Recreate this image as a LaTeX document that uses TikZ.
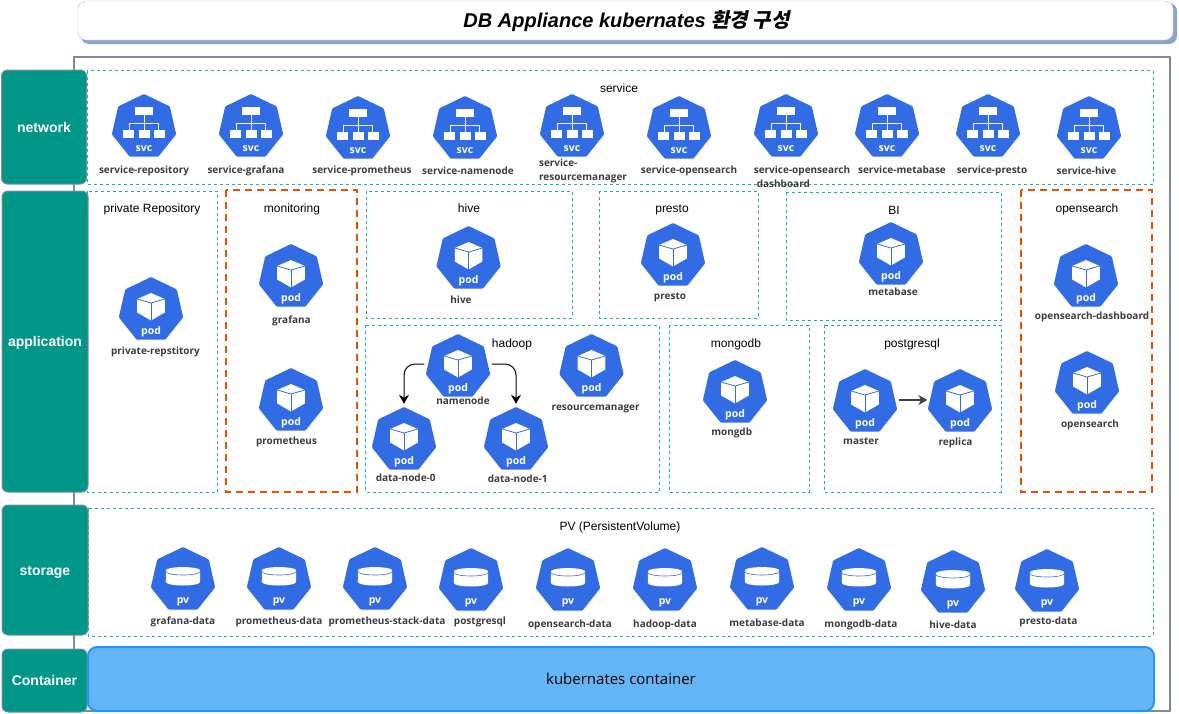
\documentclass[tikz,border=0pt]{standalone}
\usepackage{fontspec}
\setmainfont{Liberation Sans}
\newfontfamily\labelfont{Open Sans}
\newfontfamily\cjkfont[FakeSlant=0.2,BoldFont={Noto Sans CJK KR Bold}]{Noto Sans CJK KR}
\usetikzlibrary{shapes.geometric, arrows.meta, positioning}
\definecolor{kubeblue}{HTML}{326CE5}
\definecolor{layerteal}{HTML}{009688}
\definecolor{layeredge}{HTML}{7C8BA8}
\definecolor{groupteal}{HTML}{12B5AE}
\definecolor{grouporange}{HTML}{E65100}
\definecolor{framegray}{HTML}{7F8A9C}
\definecolor{shadowblue}{HTML}{8CA3CF}
\definecolor{containerfill}{HTML}{64B5F6}
\definecolor{containeredge}{HTML}{2196F3}
\definecolor{labelgray}{HTML}{3C3C3C}

\begin{document}
\begin{tikzpicture}[x=1pt, y=-1pt]
        \tikzstyle{every node}=[align=center, inner sep=0pt]
        \tikzstyle{hepta}=[regular polygon, regular polygon sides=7, minimum size=66pt, fill=kubeblue, rounded corners=1pt]
        \tikzstyle{kind}=[text=white, font=\labelfont\bfseries\fontsize{10.5}{11}\selectfont]
        \tikzstyle{iconlabel}=[align=left, yshift=-1pt, text=labelgray, font=\labelfont\bfseries\fontsize{10}{14}\selectfont]
        \tikzstyle{grouptitle}=[text height=8pt, text depth=0pt, font=\fontsize{12}{14}\selectfont]
        \tikzstyle{groupbox}=[draw=groupteal, line width=1pt, dash pattern=on 3pt off 3pt]
        \tikzstyle{orangebox}=[draw=grouporange, line width=2pt, dash pattern=on 7pt off 5pt]
        \tikzstyle{layerbox}=[draw=layeredge, line width=1pt, fill=layerteal, rounded corners=6pt, text=white, text height=10pt, text depth=0pt, font=\bfseries\fontsize{14}{16}\selectfont]
        \tikzstyle{link}=[draw=black, line width=1pt, rounded corners=11pt, -{Stealth[length=9pt, width=10pt]}]

        \useasboundingbox (0,0) rectangle (1179,713);

        \fill[shadowblue, rounded corners=8pt] (81,3) rectangle (1177,44);
        \draw[draw=lightgray, fill=white, rounded corners=8pt] (78,1) rectangle (1173,40);
        \node at (626.5,21) (title) {\fontsize{20}{23}\selectfont\bfseries\itshape DB Appliance kubernates {\cjkfont 환경 구성}};

        \draw[framegray, line width=2pt] (74,711) -- (74,56.5) -- (1170,56.5) -- (1170,711) -- cycle;

        \draw[groupbox] (87,70.5) rectangle (1153,184);
        \draw[groupbox] (87,191) rectangle (217.5,492);
        \draw[orangebox] (226,190) rectangle (357,492);
        \draw[groupbox] (366,191) rectangle (572,318);
        \draw[groupbox] (599,191) rectangle (758,318);
        \draw[groupbox] (786,192) rectangle (1001.5,320);
        \draw[orangebox] (1021,190) rectangle (1152,492);
        \draw[groupbox] (365.5,325) rectangle (659,492);
        \draw[groupbox] (669,325) rectangle (809,492);
        \draw[groupbox] (824,325) rectangle (1001,492);
        \draw[groupbox] (88,508) rectangle (1153,636);

        \node[grouptitle] at (619,88) (serviceTitle) {service};
        \node[grouptitle] at (152,208) (repoTitle) {private Repository};
        \node[grouptitle] at (292,208) (monitoringTitle) {monitoring};
        \node[grouptitle] at (469,208) (hiveTitle) {hive};
        \node[grouptitle] at (672,208) (prestoTitle) {presto};
        \node[grouptitle] at (894,210) (biTitle) {BI};
        \node[grouptitle] at (1087,208) (opensearchTitle) {opensearch};
        \node[grouptitle] at (512,343) (hadoopTitle) {hadoop};
        \node[grouptitle] at (736,343) (mongodbTitle) {mongodb};
        \node[grouptitle] at (912,343) (postgresqlTitle) {postgresql};
        \node[grouptitle] at (620,526) (pvTitle) {PV (PersistentVolume)};

        \node[layerbox, minimum width=85pt, minimum height=114pt] at (44,127) (network) {network};
        \node[layerbox, minimum width=86pt, minimum height=301pt] at (45,341.5) (application) {application};
        \node[layerbox, minimum width=86pt, minimum height=130pt] at (45,570) (storage) {storage};
        \node[layerbox, minimum width=85pt, minimum height=63pt] at (44.5,680.5) (container) {Container};

        \node[draw=containeredge, line width=2pt, fill=containerfill, rounded corners=9pt, minimum width=1066pt, minimum height=64pt, text height=10pt, text depth=0pt, font=\labelfont\fontsize{15}{17}\selectfont] at (621,679) (kube) {kubernates container};

        \foreach \nm/\x/\y/\lx/\ly/\txt in {svcRepo/144/127/144/170/service-repository, svcGrafana/251/127/246/170/service-grafana, svcProm/358/129/362/170/service-prometheus, svcName/465/129/468/170/service-namenode, svcRes/572/127/583/170/service-\\resourcemanager, svcOpen/679/129/689/170/service-opensearch, svcDash/786/127/802/176/service-opensearch\\\hspace*{3pt}dashboard, svcMeta/887/127/902/169/service-metabase, svcPresto/988/127/992/170/service-presto, svcHive/1089/129/1086.5/170/service-hive}
        {
            \node[hepta] at (\x,\y) (\nm) {};
            \begin{scope}[shift={(\x,\y)}]
                \fill[white] (-8.7,-19.8) rectangle (8.7,-11.8);
                \fill[white] (-20.7,3.2) rectangle (-9.7,10.9);
                \fill[white] (-5.5,3.2) rectangle (5.5,10.9);
                \fill[white] (9.7,3.2) rectangle (20.7,10.9);
                \draw[white, line width=1pt] (0,-12) -- (0,3.2);
                \draw[white, line width=1pt] (-14.7,3.2) -- (-14.7,-3.5) -- (14.7,-3.5) -- (14.7,3.2);
            \end{scope}
            \node[kind] at (\x,\y+21.5) (\nm-kind) {svc};
            \node[iconlabel] at (\lx,\ly) (\nm-label) {\txt};
        }

        \foreach \nm/\x/\y/\lx/\ly/\txt in {private/151/310/155.5/351/private-repstitory, grafana/291/277/291.5/320/grafana, prometheus/291/401/286.5/441/prometheus, hive/468.6/259/461/299/hive, presto/673/256/670/296/presto, metabase/891/255/893/291/metabase, namenode/458/367/463/400/namenode, resourcemanager/591.5/367/595.7/407.5/resourcemanager, datanode0/404/440/405.7/477/data-node-0, datanode1/516/440/517.7/478/data-node-1, mongodb/735/393/731.7/431.5/mongdb, master/865/402/861/440.5/master, replica/960/402/955.5/442/replica, dashboard/1086/277/1092/316/opensearch-dashboard, opensearch/1087/384/1090/424/opensearch}
        {
            \node[hepta] at (\x,\y) (\nm) {};
            \begin{scope}[shift={(\x,\y)}]
                \fill[white] (0,-17) -- (13.8,-11) -- (13.8,2.5) -- (0,10.5) -- (-13.8,2.5) -- (-13.8,-11) -- cycle;
                \draw[kubeblue, line width=.8pt] (-13.8,-11) -- (0,-7) -- (13.8,-11);
                \draw[kubeblue, line width=.8pt] (0,-7) -- (0,10.5);
            \end{scope}
            \node[kind] at (\x,\y+22) (\nm-kind) {pod};
            \node[iconlabel] at (\lx,\ly) (\nm-label) {\txt};
        }

        \foreach \nm/\x/\y/\lx/\ly/\txt in {pvGrafana/183/580/183/621/grafana-data, pvProm/279/580/279/621/prometheus-data, pvStack/375/580/387/621/prometheus-stack-data, pvPostgres/471/581/480/621/postgresql, pvOpen/568/581/570/624/opensearch-data, pvHadoop/665/581/665/624/hadoop-data, pvMeta/762/580/767/622/metabase-data, pvMongo/859/581/861/624/mongodb-data, pvHive/953/583/953/624/hive-data, pvPresto/1047/582/1048.5/621/presto-data}
        {
            \node[hepta] at (\x,\y) (\nm) {};
            \begin{scope}[shift={(\x,\y)}]
                \fill[white] (-17.2,-9) -- (-17.2,2) arc[start angle=180, end angle=0, x radius=17.2, y radius=3.5] -- (17.2,-9) -- cycle;
                \draw[kubeblue, line width=.6pt] (-17.2,-8.5) arc[start angle=180, end angle=0, x radius=17.2, y radius=3.5];
                \fill[white] (0,-9.7) ellipse[x radius=17.2, y radius=3.2];
            \end{scope}
            \node[kind] at (\x,\y+22) (\nm-kind) {pv};
            \node[iconlabel] at (\lx,\ly) (\nm-label) {\txt};
        }

        \draw[link, shorten <=3pt, shorten >=3pt] ([yshift=3pt]namenode.west) -| (datanode0.north);
        \draw[link, shorten <=3pt, shorten >=3pt] ([yshift=3pt]namenode.east) -| (datanode1.north);
        \draw[link, draw=black!75, line width=1.2pt, rounded corners=0pt, shorten >=2pt] ([xshift=3pt, yshift=2pt]master.east) -- ([yshift=2pt]replica.west);
\end{tikzpicture}
\end{document}
